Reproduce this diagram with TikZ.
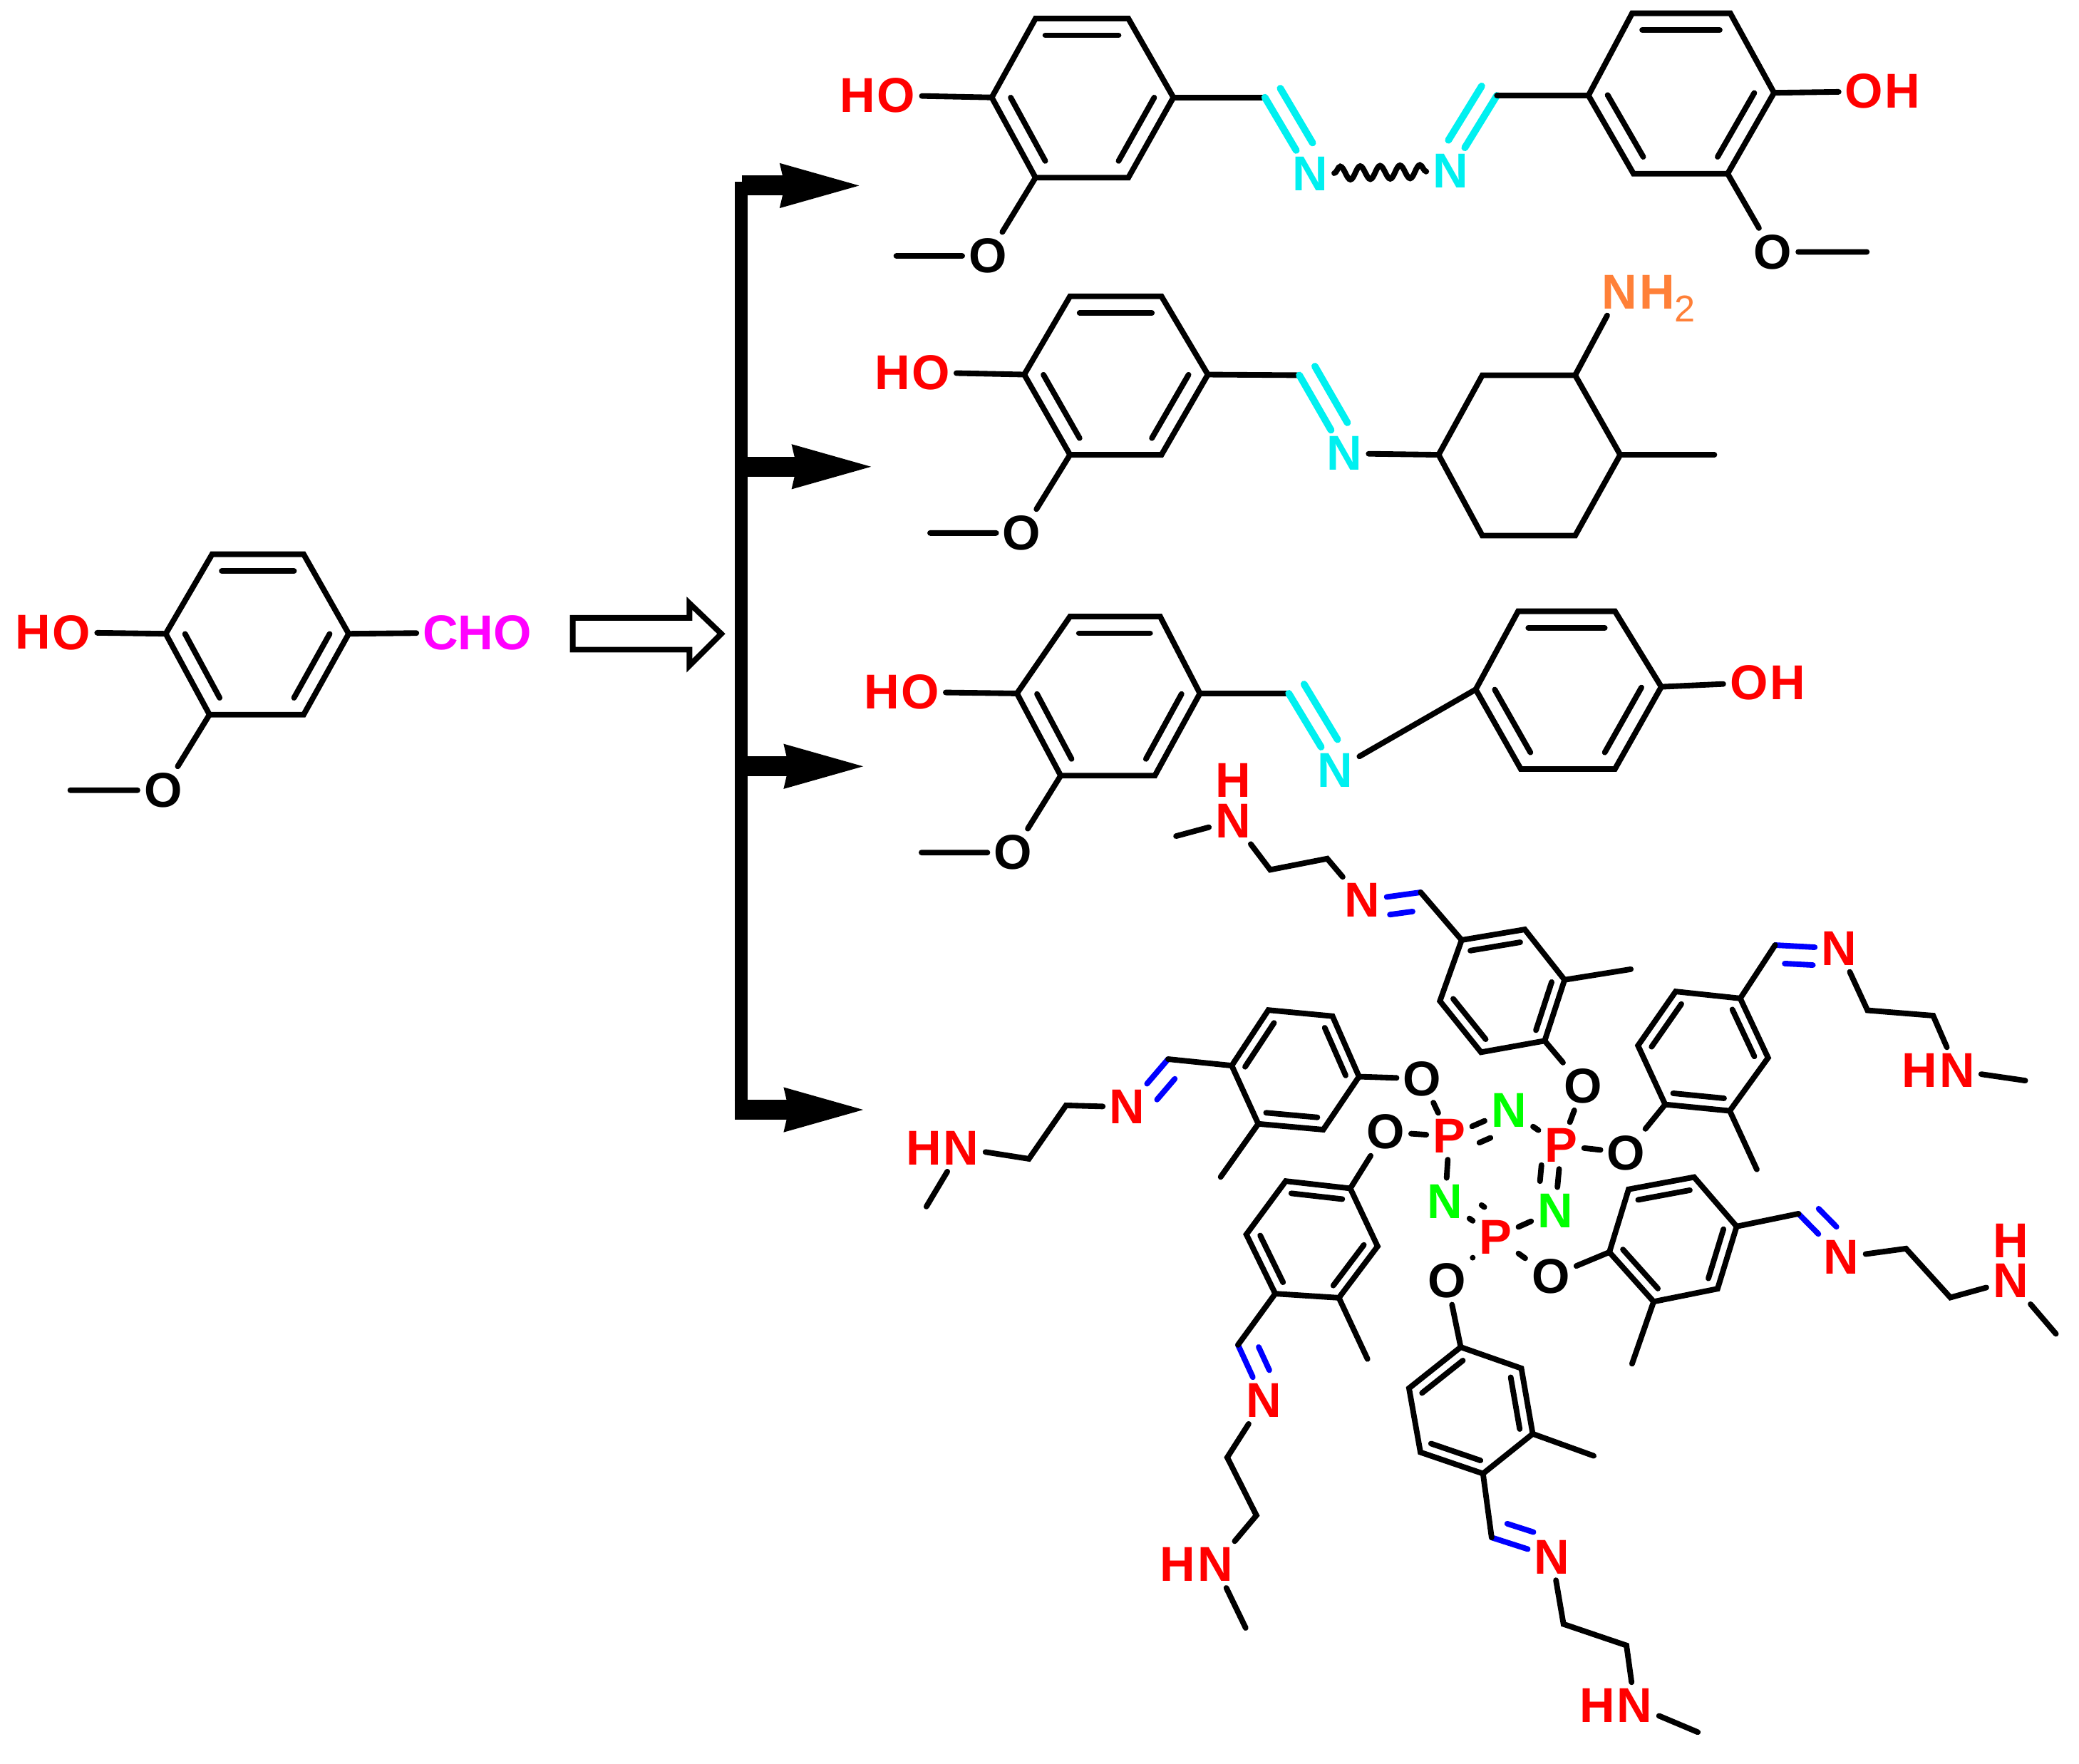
\documentclass[tikz,border=0pt]{standalone}
\usepackage{fontspec}
\setmainfont{Liberation Sans}
\usetikzlibrary{calc,positioning,arrows.meta,decorations.pathmorphing}

\definecolor{iminecyan}{RGB}{0,240,240}
\definecolor{amineorange}{RGB}{255,128,56}
\definecolor{formylpink}{RGB}{255,0,255}

\tikzset{
  atom/.style={font=\bfseries\fontsize{10.5}{12}\selectfont,inner sep=1.2pt},
  redatom/.style={atom,text=red},
  greenatom/.style={atom,text=green},
  cyanatom/.style={atom,text=iminecyan},
  bond/.style={line width=1.2pt,line cap=round},
  cyanbond/.style={line width=1.5pt,line cap=round,iminecyan},
  bluebond/.style={line width=1.2pt,line cap=round,blue},
  branch/.style={line width=4.3pt,-{Stealth[length=0.6cm,width=0.34cm,inset=0.04cm,line width=0pt]}}
}

\newcommand{\ringsix}[7]{
  \coordinate (#1a) at (#2);
  \coordinate (#1b) at (#3);
  \coordinate (#1c) at (#4);
  \coordinate (#1d) at (#5);
  \coordinate (#1e) at (#6);
  \coordinate (#1f) at (#7);
  \coordinate (#1mid) at ($(#1a)!0.5!(#1d)$);
  \draw[bond] (#1a) -- (#1b) -- (#1c) -- (#1d) -- (#1e) -- (#1f) -- cycle;
  \foreach \p/\q in {a/b,c/d,e/f}
    \draw[bond] ($(#1\p)!0.21!(#1mid)$) -- ($(#1\q)!0.21!(#1mid)$);
}

\newcommand{\dblbond}[6]{
  \draw[#1] (#2) -- (#3);
  \draw[#1,shorten <=#5,shorten >=#6] ($(#2)!0.135cm!#4:(#3)$) -- ($(#3)!0.135cm!-#4:(#2)$);
}
\newcommand{\cyandbl}[3]{\dblbond{cyanbond}{#1}{#2}{#3}{0cm}{0.19cm}}
\newcommand{\bluedbl}[3]{\dblbond{bluebond}{#1}{#2}{#3}{0.08cm}{0.19cm}}

\begin{document}
\begin{tikzpicture}[x=0.01cm,y=-0.01cm]
  \useasboundingbox (0,0) rectangle (1568,1330.4);

  \ringsix{v}{160,418}{229,418}{263,478}{229,539}{158,539}{125,478}
  \node[redatom] (vo) at (54,477) {O};
  \node[redatom,left=-2.4pt of vo] (vh) {H};
  \node[atom,text=formylpink] (vcho) at (360,477) {CHO};
  \node[atom] (vome) at (123,596) {O};
  \coordinate (vme) at (53,596);
  \draw[bond] (vf) -- (vo);
  \draw[bond] (vc) -- (vcho);
  \draw[bond] (ve) -- (vome) -- (vme);

  \draw[bond,fill=white] (432,466) -- (520,466) -- (520,455) -- (544,478) -- (520,502) -- (520,490) -- (432,490) -- cycle;

  \fill (554,137) rectangle (564,844.5);
  \foreach \i/\y/\s/\x in {1/140/559.5/648,2/352/556/657,3/578/556/651,4/837/554/651} {
    \coordinate (b\i) at (\s,\y);
    \coordinate (t\i) at (\x,\y);
    \draw[branch] (b\i) -- (t\i);
  }

  \ringsix{p}{781,14}{851,14}{885,73.5}{851,134}{781,134}{748,73.5}
  \ringsix{q}{1231,10}{1305,10}{1338,70}{1303,131}{1232,131}{1198,72}
  \node[redatom] (po) at (676,72) {O};
  \node[redatom,left=-2.4pt of po] (ph) {H};
  \node[atom] (pome) at (745,193) {O};
  \node[cyanatom] (pn) at (988,131) {N};
  \node[cyanatom] (qn) at (1094,129) {N};
  \node[redatom] (qo) at (1406,69) {O};
  \node[redatom,right=-2.4pt of qo] (qh) {H};
  \node[atom] (qome) at (1337,190) {O};
  \foreach \n/\x/\y in {pme/676/193,pim/954/73.5,qim/1129/72,qme/1408/190}
    \coordinate (\n) at (\x,\y);
  \draw[bond] (pf) -- (po);
  \draw[bond] (pe) -- (pome) -- (pme);
  \draw[bond] (pc) -- (pim);
  \cyandbl{pim}{pn}{90}
  \draw[bond,decorate,decoration={snake,amplitude=0.05cm,segment length=0.15cm}] (pn) -- (qn);
  \cyandbl{qim}{qn}{270}
  \draw[bond] (qim) -- (qf);
  \draw[bond] (qc) -- (qo);
  \draw[bond] (qd) -- (qome) -- (qme);

  \ringsix{r}{807,223.5}{876,223.5}{911,282.5}{876,343}{807,343}{772.5,282.5}
  \node[redatom] (ro) at (702,281) {O};
  \node[redatom,left=-2.4pt of ro] (rh) {H};
  \node[atom] (rome) at (770.6,402) {O};
  \node[cyanatom] (rn) at (1014,342) {N};
  \node[atom,text=amineorange] (am) at (1221.6,220.3) {N};
  \node[atom,text=amineorange,base right=-2.4pt of am] (amh) {H{\mdseries\fontsize{8}{9}\selectfont\raisebox{-2.75pt}{2}}};
  \foreach \n/\x/\y in {rme/701.5/402,rim/980/283,cya/1085/343,cyb/1118/283,cyc/1188/283,cyd/1222/343,cye/1188/404,cyf/1118/404,cyme/1293/343}
    \coordinate (\n) at (\x,\y);
  \draw[bond] (rf) -- (ro);
  \draw[bond] (re) -- (rome) -- (rme);
  \draw[bond] (rc) -- (rim);
  \cyandbl{rim}{rn}{90}
  \draw[bond] (rn) -- (cya);
  \draw[bond] (cya) -- (cyb) -- (cyc) -- (cyd) -- (cye) -- (cyf) -- cycle;
  \draw[bond] (cyc) -- (am);
  \draw[bond] (cyd) -- (cyme);

  \ringsix{s}{807,465}{875,465}{905,523}{871,585}{800,585}{767,523}
  \ringsix{u}{1145,461}{1218,461}{1253,518}{1218,580}{1147,580}{1113,520}
  \node[redatom] (so) at (694,522) {O};
  \node[redatom,left=-2.4pt of so] (sh) {H};
  \node[atom] (some) at (764,643) {O};
  \node[cyanatom] (sn) at (1007,581) {N};
  \node[redatom] (uo) at (1319,515) {O};
  \node[redatom,right=-2.4pt of uo] (uh) {H};
  \foreach \n/\x/\y in {sme/695/643,sim/972/523}
    \coordinate (\n) at (\x,\y);
  \draw[bond] (sf) -- (so);
  \draw[bond] (se) -- (some) -- (sme);
  \draw[bond] (sc) -- (sim);
  \cyandbl{sim}{sn}{90}
  \draw[bond] (sn) -- (uf);
  \draw[bond] (uc) -- (uo);

  \node[redatom] (pha) at (1093,857) {P};
  \node[redatom] (phb) at (1177.5,864) {P};
  \node[redatom] (phc) at (1128,933) {P};
  \node[greenatom] (na) at (1138,837.4) {N};
  \node[greenatom] (nb) at (1173,913) {N};
  \node[greenatom] (nc) at (1090,906) {N};
  \dblbond{bond}{pha}{na}{270}{0.19cm}{0.21cm}
  \dblbond{bond}{phb}{nb}{270}{0.16cm}{0.21cm}
  \dblbond{bond}{nc}{phc}{90}{0.24cm}{0.2cm}
  \draw[bond] (na) -- (phb);
  \draw[bond] (nb) -- (phc);
  \draw[bond] (nc) -- (pha);

  \node[atom] (oa) at (1072.6,813.6) {O};
  \node[atom] (ob) at (1045,853.7) {O};
  \node[atom] (oc) at (1194,819.4) {O};
  \node[atom] (od) at (1226.4,869.4) {O};
  \node[atom] (oe) at (1169.6,962.8) {O};
  \node[atom] (of) at (1091.4,966) {O};
  \draw[bond] (oa) -- (pha);
  \draw[bond] (ob) -- (pha);
  \draw[bond] (oc) -- (phb);
  \draw[bond] (od) -- (phb);
  \draw[bond] (oe) -- (phc);
  \draw[bond] (of) -- (phc);

  \ringsix{a}{1102.4,709}{1150,701}{1180,739}{1165,785}{1117,793.6}{1086,755}
  \node[redatom] (an) at (1027.6,679) {N};
  \node[redatom] (ah) at (930,619) {N};
  \node[redatom,above=-1.4pt of ah] (ahh) {H};
  \foreach \n/\x/\y in {aim/1071.5/673,ak1/1001/647.6,ak2/958/656,alk/887/630.6,ame/1230/731}
    \coordinate (\n) at (\x,\y);
  \draw[bond] (ah) -- (ak2) -- (ak1) -- (an);
  \draw[bond] (alk) -- (ah);
  \bluedbl{aim}{an}{90}
  \draw[bond] (aim) -- (aa);
  \draw[bond] (ac) -- (ame);
  \draw[bond] (ad) -- (oc);

  \ringsix{b}{929,803.7}{956.6,761.8}{1005,766.4}{1025,812}{998,852}{949,847.6}
  \node[redatom] (bn) at (850,835) {N};
  \node[redatom] (bh) at (725,866) {N};
  \node[redatom,left=-2.4pt of bh] (bhh) {H};
  \foreach \n/\x/\y in {bim/881/798.8,bk1/804/833.7,bk2/776/874,blk/698.7/910,bme/920.6/887.7}
    \coordinate (\n) at (\x,\y);
  \bluedbl{bim}{bn}{90}
  \draw[bond] (ba) -- (bim);
  \draw[bond] (bn) -- (bk1) -- (bk2) -- (bh);
  \draw[bond] (bh) -- (blk);
  \draw[bond] (bf) -- (bme);
  \draw[bond] (bd) -- (oa);

  \ringsix{c}{969.7,890.8}{1018.4,896.3}{1039,940}{1009.8,978.8}{961.8,975.7}{940,931}
  \node[redatom] (cn) at (953,1056.3) {N};
  \node[redatom] (ch) at (916.4,1180) {N};
  \node[redatom,left=-2.4pt of ch] (chh) {H};
  \foreach \n/\x/\y in {cim/933.7/1014.3,ck1/925.6/1099.2,ck2/947.6/1142.9,clk/939.5/1227.8,cme/1031.4/1025}
    \coordinate (\n) at (\x,\y);
  \bluedbl{cim}{cn}{90}
  \draw[bond] (ce) -- (cim);
  \draw[bond] (cn) -- (ck1) -- (ck2) -- (ch);
  \draw[bond] (ch) -- (clk);
  \draw[bond] (cd) -- (cme);
  \draw[bond] (cb) -- (ob);

  \ringsix{d}{1062.7,1047}{1101.7,1016}{1147.4,1032}{1156,1081.4}{1118.5,1111.4}{1071.3,1095.3}
  \node[redatom] (dn) at (1170.5,1174.2) {N};
  \node[redatom] (dh) at (1233,1286.4) {N};
  \node[redatom,left=-2.4pt of dh] (dhh) {H};
  \foreach \n/\x/\y in {dim/1125/1159.6,dk1/1179.2/1224.9,dk2/1226.7/1241,dlk/1280.5/1306.4,dme/1202/1098}
    \coordinate (\n) at (\x,\y);
  \bluedbl{dim}{dn}{90}
  \draw[bond] (de) -- (dim);
  \draw[bond] (dn) -- (dk1) -- (dk2) -- (dh);
  \draw[bond] (dh) -- (dlk);
  \draw[bond] (dd) -- (dme);
  \draw[bond] (db) -- (of);

  \ringsix{e}{1263.8,747.8}{1235.4,788.6}{1255.9,833}{1304.6,837.8}{1333.5,797.8}{1312.5,753}
  \node[redatom] (en) at (1387,715.4) {N};
  \node[redatom] (eh) at (1476,807.5) {N};
  \node[redatom,left=-2.4pt of eh] (ehh) {H};
  \foreach \n/\x/\y in {eim/1338.8/712.8,ek1/1408.5/762,ek2/1458/766,elk/1527.5/815,eme/1325/882}
    \coordinate (\n) at (\x,\y);
  \bluedbl{eim}{en}{270}
  \draw[bond] (ef) -- (eim);
  \draw[bond] (en) -- (ek1) -- (ek2) -- (eh);
  \draw[bond] (eh) -- (elk);
  \draw[bond] (ed) -- (eme);
  \draw[bond] (ec) -- (od);

  \ringsix{f}{1277.7,887.8}{1228.3,897}{1213.8,944.4}{1247.2,981.7}{1295.4,972}{1309.8,925}
  \node[redatom] (fn) at (1388.8,948.3) {N};
  \node[redatom] (fh) at (1516.4,966) {N};
  \node[redatom,above=-1.4pt of fh] (fhh) {H};
  \foreach \n/\x/\y in {fim/1356.4/915.4,fk1/1437.5/941.7,fk2/1471/978.6,flk/1550.6/1006,fme/1230.9/1028.6}
    \coordinate (\n) at (\x,\y);
  \bluedbl{fim}{fn}{90}
  \draw[bond] (ff) -- (fim);
  \draw[bond] (fn) -- (fk1) -- (fk2) -- (fh);
  \draw[bond] (fh) -- (flk);
  \draw[bond] (fd) -- (fme);
  \draw[bond] (fc) -- (oe);
\end{tikzpicture}
\end{document}
